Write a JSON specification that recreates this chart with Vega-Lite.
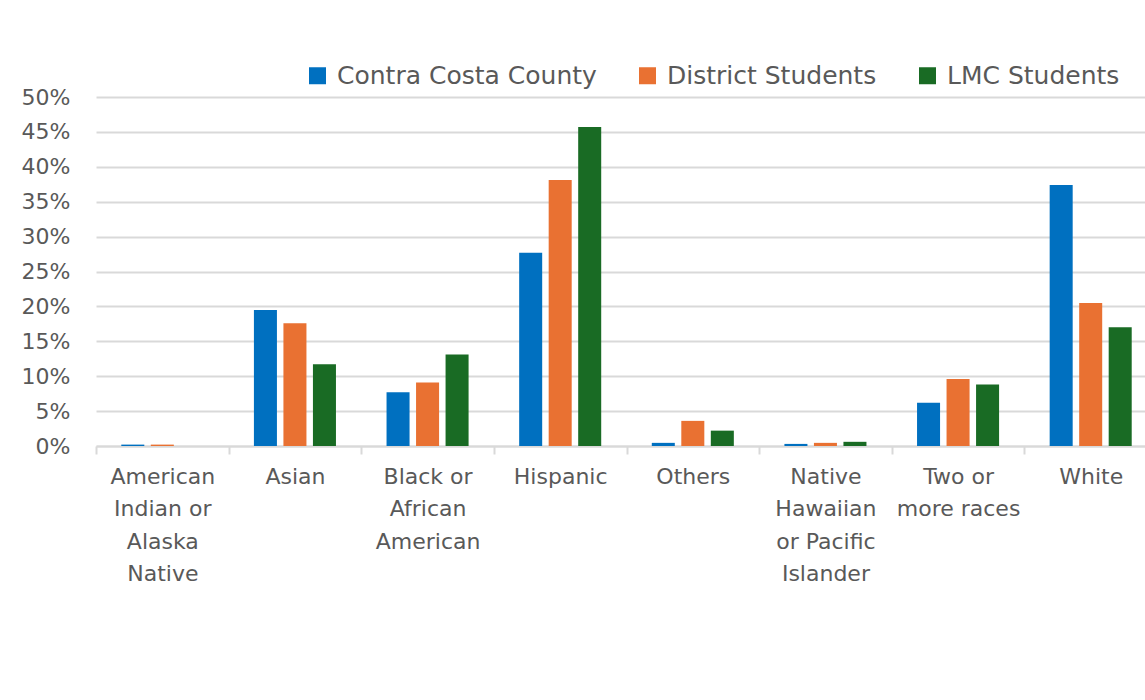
{
  "$schema": "https://vega.github.io/schema/vega-lite/v6.json",
  "autosize": {"type": "none"},
  "padding": {"left": 96, "top": 97, "right": 0, "bottom": 254},
  "width": 1049,
  "height": 349,
  "background": "#ffffff",
  "config": {
    "view": {"stroke": null},
    "font": "DejaVu Sans",
    "axis": {"labelFont": "DejaVu Sans", "labelColor": "#595959", "titleColor": "#595959"}
  },
  "data": {
    "values": [
      {"group": "American Indian or Alaska Native", "series": "Contra Costa County", "share": 0.002},
      {"group": "American Indian or Alaska Native", "series": "District Students", "share": 0.002},
      {"group": "American Indian or Alaska Native", "series": "LMC Students", "share": 0.0},
      {"group": "Asian", "series": "Contra Costa County", "share": 0.195},
      {"group": "Asian", "series": "District Students", "share": 0.176},
      {"group": "Asian", "series": "LMC Students", "share": 0.117},
      {"group": "Black or African American", "series": "Contra Costa County", "share": 0.077},
      {"group": "Black or African American", "series": "District Students", "share": 0.091},
      {"group": "Black or African American", "series": "LMC Students", "share": 0.131},
      {"group": "Hispanic", "series": "Contra Costa County", "share": 0.277},
      {"group": "Hispanic", "series": "District Students", "share": 0.381},
      {"group": "Hispanic", "series": "LMC Students", "share": 0.457},
      {"group": "Others", "series": "Contra Costa County", "share": 0.0045},
      {"group": "Others", "series": "District Students", "share": 0.036},
      {"group": "Others", "series": "LMC Students", "share": 0.022},
      {"group": "Native Hawaiian or Pacific Islander", "series": "Contra Costa County", "share": 0.003},
      {"group": "Native Hawaiian or Pacific Islander", "series": "District Students", "share": 0.0045},
      {"group": "Native Hawaiian or Pacific Islander", "series": "LMC Students", "share": 0.006},
      {"group": "Two or more races", "series": "Contra Costa County", "share": 0.062},
      {"group": "Two or more races", "series": "District Students", "share": 0.096},
      {"group": "Two or more races", "series": "LMC Students", "share": 0.088},
      {"group": "White", "series": "Contra Costa County", "share": 0.374},
      {"group": "White", "series": "District Students", "share": 0.205},
      {"group": "White", "series": "LMC Students", "share": 0.170}
    ]
  },
  "mark": {"type": "bar"},
  "encoding": {
    "x": {
      "field": "group",
      "type": "nominal",
      "sort": null,
      "title": null,
      "scale": {"range": [0, 1061], "paddingInner": 0, "paddingOuter": 0},
      "axis": {
        "labelAngle": 0,
        "labelFontSize": 22,
        "labelLineHeight": 32.5,
        "labelPadding": 12,
        "labelBaseline": "top",
        "labelLimit": 0,
        "tickBand": "extent",
        "tickColor": "#d9d9d9",
        "tickWidth": 2,
        "tickSize": 8,
        "domainColor": "#d9d9d9",
        "domainWidth": 2,
        "grid": false,
        "labelExpr": "datum.label == 'American Indian or Alaska Native' ? ['American', 'Indian or', 'Alaska', 'Native'] : datum.label == 'Black or African American' ? ['Black or', 'African', 'American'] : datum.label == 'Native Hawaiian or Pacific Islander' ? ['Native', 'Hawaiian', 'or Pacific', 'Islander'] : datum.label == 'Two or more races' ? ['Two or', 'more races'] : datum.label"
      }
    },
    "xOffset": {
      "field": "series",
      "type": "nominal",
      "scale": {"paddingInner": 0.22, "paddingOuter": 0.857}
    },
    "y": {
      "field": "share",
      "type": "quantitative",
      "title": null,
      "scale": {"domain": [0, 0.5], "nice": false},
      "axis": {
        "values": [0, 0.05, 0.1, 0.15, 0.2, 0.25, 0.3, 0.35, 0.4, 0.45, 0.5],
        "format": ".0%",
        "labelFontSize": 22,
        "labelPadding": 26,
        "ticks": false,
        "domain": false,
        "grid": true,
        "gridColor": "#d9d9d9",
        "gridWidth": 2
      }
    },
    "color": {
      "field": "series",
      "type": "nominal",
      "title": null,
      "scale": {
        "domain": ["Contra Costa County", "District Students", "LMC Students"],
        "range": ["#0070C0", "#E97132", "#196B24"]
      },
      "legend": {
        "orient": "none",
        "direction": "horizontal",
        "legendX": 209,
        "legendY": -34,
        "symbolType": "square",
        "symbolSize": 289,
        "symbolStrokeWidth": 0,
        "labelFontSize": 25,
        "labelColor": "#595959",
        "labelFont": "DejaVu Sans",
        "labelOffset": 7,
        "columnPadding": 38,
        "labelLimit": 0
      }
    }
  }
}
